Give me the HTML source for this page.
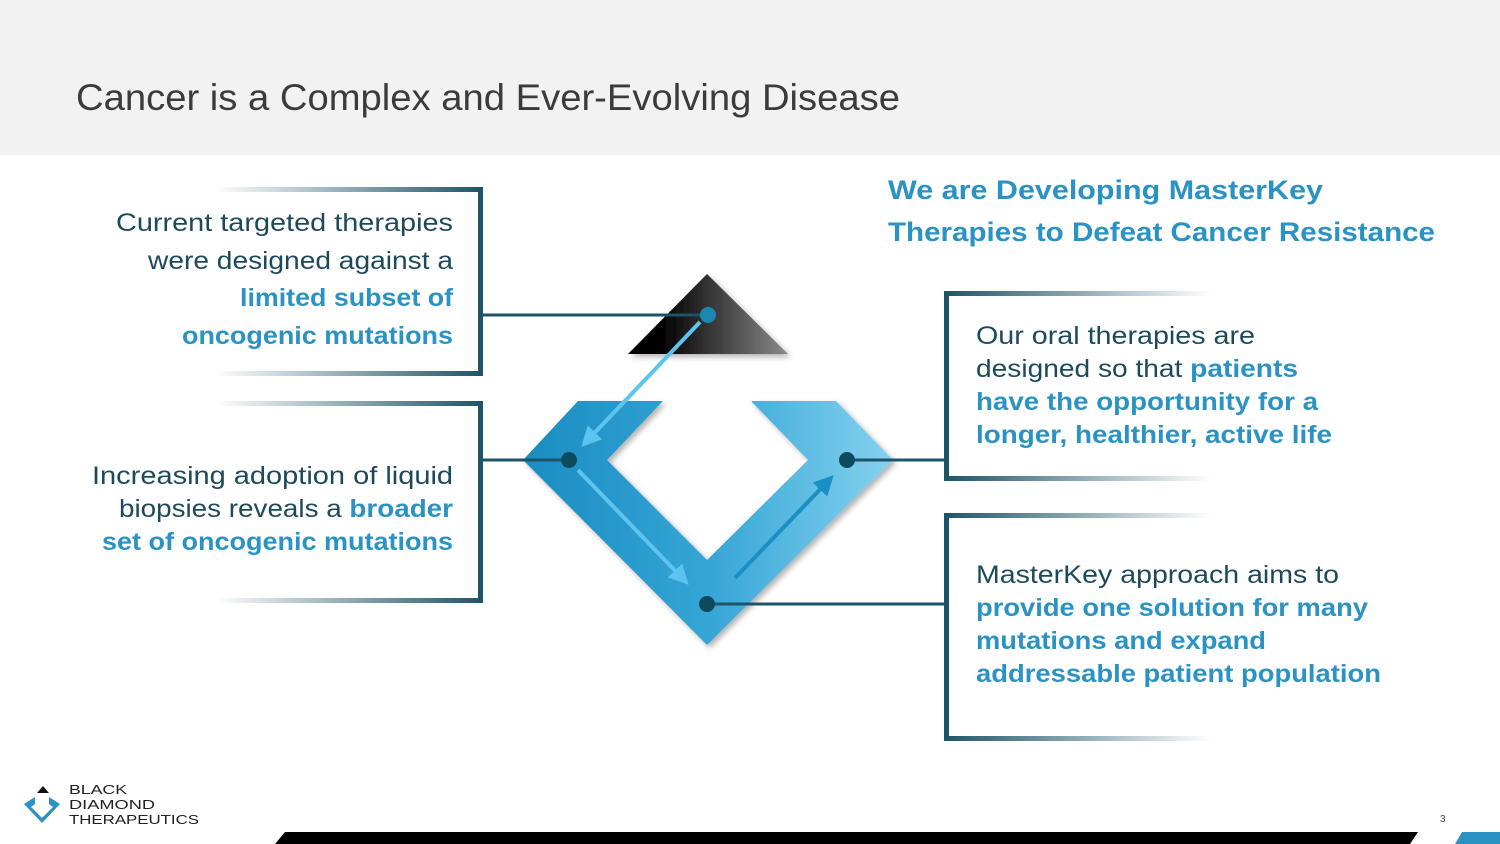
<!DOCTYPE html>
<html><head><meta charset="utf-8"><style>
html,body{margin:0;padding:0;width:1500px;height:844px;overflow:hidden;background:#fff;font-family:"Liberation Sans",sans-serif}
</style></head><body>
<svg width="1500" height="844" viewBox="0 0 1500 844" xmlns="http://www.w3.org/2000/svg" style="position:absolute;left:0;top:0">
<defs>
<linearGradient id="tri" x1="0" x2="1" y1="0" y2="0"><stop offset="0.2" stop-color="#000"/><stop offset="1" stop-color="#8a8a8a"/></linearGradient>
<linearGradient id="dia" x1="0" x2="1" y1="0" y2="0"><stop offset="0" stop-color="#1b8cc2"/><stop offset="0.5" stop-color="#35a5d6"/><stop offset="1" stop-color="#85d2ef"/></linearGradient>
<linearGradient id="bl" x1="0" x2="1"><stop offset="0" stop-color="#1e5468" stop-opacity="0"/><stop offset="1" stop-color="#1e5468"/></linearGradient>
<linearGradient id="br" x1="1" x2="0"><stop offset="0" stop-color="#1e5468" stop-opacity="0"/><stop offset="1" stop-color="#1e5468"/></linearGradient>
<filter id="sh" x="-10%" y="-10%" width="130%" height="130%"><feDropShadow dx="3" dy="3" stdDeviation="3" flood-opacity="0.3"/></filter>
<marker id="ah" viewBox="0 0 10 10" refX="8" refY="5" markerWidth="5" markerHeight="5" orient="auto"><path d="M0,0L10,5L0,10z" fill="#5cc4ee"/></marker>
<marker id="ah2" viewBox="0 0 10 10" refX="8" refY="5" markerWidth="5" markerHeight="5" orient="auto"><path d="M0,0L10,5L0,10z" fill="#1a8fc4"/></marker>
</defs>
<rect x="0" y="0" width="1500" height="155" fill="#f2f2f2"/>
<text x="76" y="110" font-size="37" fill="#3b3b3b" textLength="824" lengthAdjust="spacingAndGlyphs">Cancer is a Complex and Ever-Evolving Disease</text>

<rect x="215" y="187" width="268" height="5" fill="url(#bl)"/>
<rect x="215" y="371" width="268" height="5" fill="url(#bl)"/>
<rect x="478" y="187" width="5" height="189" fill="#1e5468"/>
<rect x="215" y="401" width="268" height="5" fill="url(#bl)"/>
<rect x="215" y="598" width="268" height="5" fill="url(#bl)"/>
<rect x="478" y="401" width="5" height="202" fill="#1e5468"/>
<rect x="944" y="291" width="268" height="5" fill="url(#br)"/>
<rect x="944" y="476" width="268" height="5" fill="url(#br)"/>
<rect x="944" y="291" width="5" height="190" fill="#1e5468"/>
<rect x="944" y="513" width="268" height="5" fill="url(#br)"/>
<rect x="944" y="736" width="268" height="5" fill="url(#br)"/>
<rect x="944" y="513" width="5" height="228" fill="#1e5468"/>

<g font-size="25" fill="#1d4a5a" lengthAdjust="spacingAndGlyphs">
<text x="116" y="231" textLength="337" lengthAdjust="spacingAndGlyphs">Current targeted therapies</text>
<text x="148" y="269" textLength="305" lengthAdjust="spacingAndGlyphs">were designed against a</text>
<text x="240" y="306" textLength="213" lengthAdjust="spacingAndGlyphs" fill="#2a93c4" font-weight="bold">limited subset of</text>
<text x="182" y="344" textLength="271" lengthAdjust="spacingAndGlyphs" fill="#2a93c4" font-weight="bold">oncogenic mutations</text>
<text x="92" y="484" textLength="361" lengthAdjust="spacingAndGlyphs">Increasing adoption of liquid</text>
<text x="119" y="517" textLength="334" lengthAdjust="spacingAndGlyphs">biopsies reveals a <tspan fill="#2a93c4" font-weight="bold">broader</tspan></text>
<text x="102" y="550" textLength="351" lengthAdjust="spacingAndGlyphs" fill="#2a93c4" font-weight="bold">set of oncogenic mutations</text>
<text x="976" y="344" textLength="279" lengthAdjust="spacingAndGlyphs">Our oral therapies are</text>
<text x="976" y="377" textLength="322" lengthAdjust="spacingAndGlyphs">designed so that <tspan fill="#2a93c4" font-weight="bold">patients</tspan></text>
<text x="976" y="410" textLength="342" lengthAdjust="spacingAndGlyphs" fill="#2a93c4" font-weight="bold">have the opportunity for a</text>
<text x="976" y="443" textLength="356" lengthAdjust="spacingAndGlyphs" fill="#2a93c4" font-weight="bold">longer, healthier, active life</text>
<text x="976" y="583" textLength="363" lengthAdjust="spacingAndGlyphs">MasterKey approach aims to</text>
<text x="976" y="616" textLength="392" lengthAdjust="spacingAndGlyphs" fill="#2a93c4" font-weight="bold">provide one solution for many</text>
<text x="976" y="649" textLength="290" lengthAdjust="spacingAndGlyphs" fill="#2a93c4" font-weight="bold">mutations and expand</text>
<text x="976" y="682" textLength="405" lengthAdjust="spacingAndGlyphs" fill="#2a93c4" font-weight="bold">addressable patient population</text>
</g>
<g font-size="27" fill="#2a93c4" font-weight="bold">
<text x="888" y="199" textLength="435" lengthAdjust="spacingAndGlyphs">We are Developing MasterKey</text>
<text x="888" y="241" textLength="547" lengthAdjust="spacingAndGlyphs">Therapies to Defeat Cancer Resistance</text>
</g>

<polygon points="707,274 788,354 628,354" fill="url(#tri)" filter="url(#sh)"/>
<polygon points="578,401 663,401 607,460 707,560 808,460 751,401 836,401 893,460 707,645 523,460" fill="url(#dia)" filter="url(#sh)"/>
<line x1="700" y1="322" x2="584" y2="444" stroke="#5cc4ee" stroke-width="4" marker-end="url(#ah)"/>
<line x1="578" y1="470" x2="686" y2="582" stroke="#5cc4ee" stroke-width="4" marker-end="url(#ah)"/>
<line x1="735" y1="578" x2="831" y2="478" stroke="#1a8fc4" stroke-width="4" marker-end="url(#ah2)"/>
<g stroke="#1e5468" stroke-width="3">
<line x1="483" y1="315" x2="707" y2="315"/>
<line x1="483" y1="460" x2="569" y2="460"/>
<line x1="847" y1="460" x2="944" y2="460"/>
<line x1="707" y1="604" x2="944" y2="604"/>
</g>
<circle cx="708" cy="315" r="8" fill="#1a88b0"/>
<circle cx="569" cy="460" r="8" fill="#0d4a5e"/>
<circle cx="847" cy="460" r="8" fill="#0d4a5e"/>
<circle cx="707" cy="604" r="8" fill="#0d4a5e"/>

<polygon points="37,793 43,786 49,793" fill="#111"/>
<path d="M24,804 L35,797 L35,804 L31,807 L42,818 L53,807 L49,804 L49,797 L60,804 L42,823 Z" fill="#2a93c4"/>
<g font-size="13" fill="#222">
<text x="69" y="794" textLength="58" lengthAdjust="spacingAndGlyphs">BLACK</text>
<text x="69" y="809" textLength="86" lengthAdjust="spacingAndGlyphs">DIAMOND</text>
<text x="69" y="824" textLength="130" lengthAdjust="spacingAndGlyphs">THERAPEUTICS</text>
</g>
<text x="1440" y="822" font-size="10" fill="#444">3</text>
<polygon points="285,832 1418,832 1410,844 275,844" fill="#000"/>
<polygon points="1462,832 1500,832 1500,844 1455,844" fill="#2a93c4"/>
</svg>
</body></html>
